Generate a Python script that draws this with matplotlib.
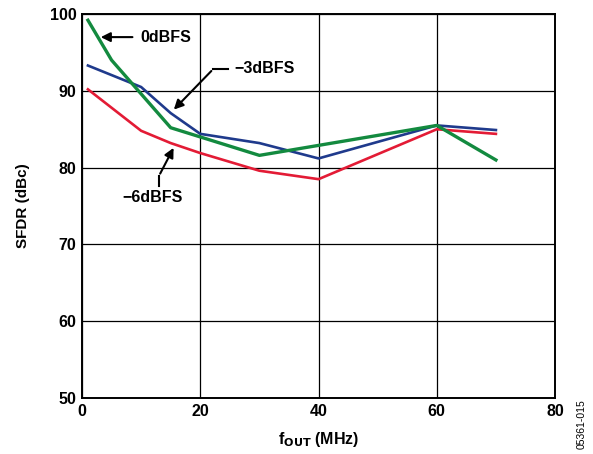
import numpy as np
import matplotlib.pyplot as plt

plt.rcParams['font.family'] = ['Liberation Sans', 'DejaVu Sans']
plt.rcParams['font.weight'] = 'bold'

# SFDR vs fOUT
f_0db = [1, 5, 15, 30, 40, 60, 70]
sfdr_0db = [99.2, 94.0, 85.2, 81.6, 82.9, 85.5, 81.0]
f_3db = [1, 10, 15, 20, 30, 40, 60, 70]
sfdr_3db = [93.3, 90.5, 87.1, 84.4, 83.2, 81.2, 85.5, 84.9]
f_6db = [1, 10, 15, 20, 30, 40, 60, 70]
sfdr_6db = [90.2, 84.8, 83.2, 81.9, 79.6, 78.5, 85.0, 84.4]

xticks = [0, 20, 40, 60, 80]
yticks = [50, 60, 70, 80, 90, 100]

fig = plt.figure(figsize=(5.93, 4.54), dpi=100)
ax = fig.add_axes([0.1383, 0.1233, 0.7977, 0.8457])

ax.plot(f_6db, sfdr_6db, color='#e31b35', lw=1.9, zorder=3)
ax.plot(f_3db, sfdr_3db, color='#1f3a8c', lw=1.9, zorder=4)
ax.plot(f_0db, sfdr_0db, color='#138a3f', lw=2.4, zorder=5)

ax.set_xlim(0, 80)
ax.set_ylim(50, 100)
ax.set_xticks(xticks)
ax.set_yticks(yticks)
ax.grid(True, color='black', lw=0.9)
ax.tick_params(length=0, labelsize=11.5, pad=4)
for s in ax.spines.values():
    s.set_linewidth(1.4)

ax.set_xlabel(r'f$_{\mathbf{OUT}}$ (MHz)', fontsize=11.5, fontweight='bold', labelpad=8)
ax.set_ylabel('SFDR (dBc)', fontsize=11, fontweight='bold', labelpad=14)

arrow = dict(arrowstyle='-|>', color='black', lw=1.5, mutation_scale=14)

# 0dBFS
ax.annotate('', xy=(2.7, 97.0), xytext=(9.0, 97.0), arrowprops=arrow)
ax.text(9.8, 97.0, '0dBFS', fontsize=11.5, va='center', ha='left')

# -3dBFS
ax.plot([22.2, 24.7], [92.85, 92.85], color='black', lw=1.5)
ax.annotate('', xy=(15.2, 87.3), xytext=(22.2, 92.85), arrowprops=arrow)
ax.text(25.8, 92.85, '\u22123dBFS', fontsize=11.5, va='center', ha='left')

# -6dBFS
ax.plot([13.0, 13.0], [77.6, 78.9], color='black', lw=1.5)
ax.annotate('', xy=(15.7, 82.9), xytext=(13.0, 78.9), arrowprops=arrow)
ax.text(12.0, 76.1, '\u22126dBFS', fontsize=11.5, va='center', ha='center')

fig.text(0.981, 0.01, '05361-015', rotation=90, fontsize=7.5, fontweight='normal',
         ha='center', va='bottom')

fig.savefig('out.png', dpi=100)
